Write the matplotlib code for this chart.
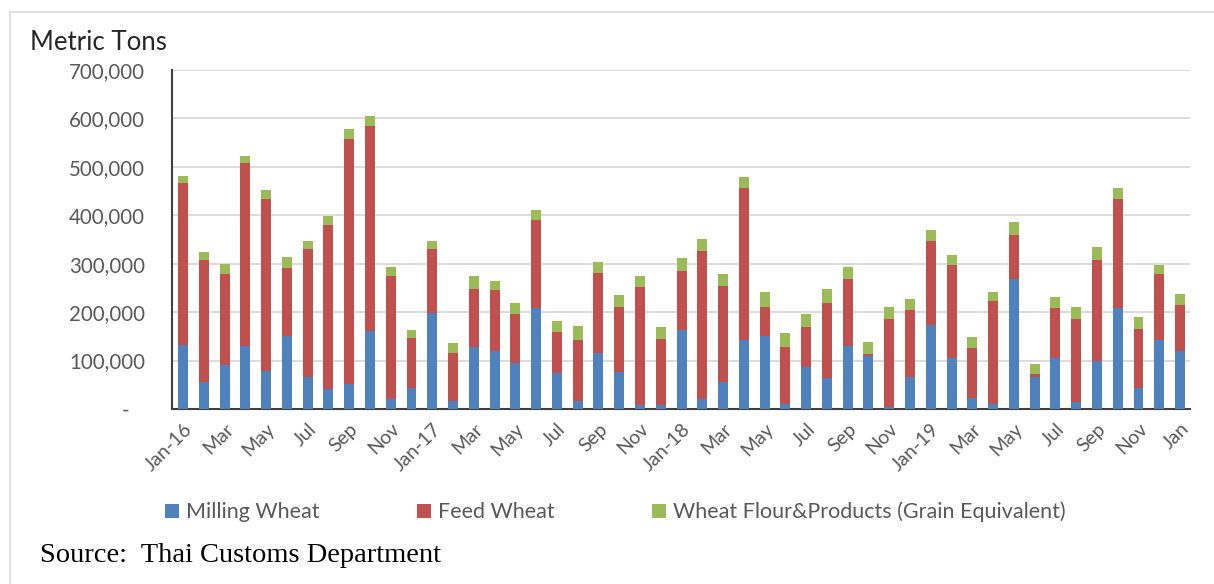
import matplotlib
matplotlib.use("Agg")
import matplotlib.pyplot as plt
from matplotlib.lines import Line2D
from matplotlib.ticker import FuncFormatter

# monthly imports, Jan-16 .. Jan-20 (metric tons)
months = ["Jan-16", "Feb", "Mar", "Apr", "May", "Jun", "Jul", "Aug", "Sep", "Oct", "Nov", "Dec",
          "Jan-17", "Feb", "Mar", "Apr", "May", "Jun", "Jul", "Aug", "Sep", "Oct", "Nov", "Dec",
          "Jan-18", "Feb", "Mar", "Apr", "May", "Jun", "Jul", "Aug", "Sep", "Oct", "Nov", "Dec",
          "Jan-19", "Feb", "Mar", "Apr", "May", "Jun", "Jul", "Aug", "Sep", "Oct", "Nov", "Dec",
          "Jan"]

milling = [132, 55, 91, 130, 79, 150, 67, 41, 51, 161, 21, 44,
           199, 16, 127, 120, 96, 209, 74, 17, 116, 76, 8, 8,
           163, 21, 55, 143, 150, 10, 86, 63, 130, 110, 5, 67,
           173, 106, 23, 10, 268, 67, 106, 14, 100, 209, 43, 142,
           119]

# top of the feed wheat segment (milling + feed)
milling_plus_feed = [466, 307, 278, 508, 434, 292, 331, 380, 558, 585, 275, 146,
                     331, 116, 248, 245, 196, 390, 159, 142, 281, 211, 251, 145,
                     284, 327, 255, 456, 211, 129, 169, 218, 268, 113, 185, 205,
                     347, 297, 126, 222, 360, 73, 208, 185, 307, 433, 166, 278,
                     215]

totals = [482, 324, 300, 522, 453, 314, 347, 399, 578, 605, 294, 163,
          347, 136, 275, 265, 218, 410, 182, 172, 304, 235, 275, 169,
          311, 351, 278, 479, 242, 156, 196, 248, 294, 139, 211, 228,
          370, 317, 149, 242, 386, 93, 231, 211, 334, 456, 191, 298,
          238]

feed = [(b - a) * 1000 for a, b in zip(milling, milling_plus_feed)]
flour = [(t - b) * 1000 for b, t in zip(milling_plus_feed, totals)]
milling = [v * 1000 for v in milling]

labels = ["Milling Wheat", "Feed Wheat", "Wheat Flour&Products (Grain Equivalent)"]
colors = ["#4F81BD", "#C0504D", "#9BBB59"]

plt.rcParams["font.family"] = ["Lato", "DejaVu Sans"]

fig = plt.figure(figsize=(12.14, 5.84), dpi=100)
ax = fig.add_axes([172 / 1214, 1 - 409 / 584, (1190 - 172) / 1214, (409 - 70) / 584])

x = list(range(len(months)))
w = 0.48
ax.bar(x, milling, w, color=colors[0], label=labels[0], zorder=3)
ax.bar(x, feed, w, bottom=milling, color=colors[1], label=labels[1], zorder=3)
bottom2 = [a + b for a, b in zip(milling, feed)]
ax.bar(x, flour, w, bottom=bottom2, color=colors[2], label=labels[2], zorder=3)

ax.set_xlim(-0.53, len(months) - 0.52)
ax.set_ylim(0, 700000)
ax.set_yticks(range(0, 700001, 100000))
ax.yaxis.set_major_formatter(FuncFormatter(lambda v, p: "-   " if v == 0 else f"{int(v):,}"))
ax.grid(axis="y", color="#D9D9D9", linewidth=1.3, zorder=0)

ax.set_xticks(x[::2])
ax.set_xticklabels(months[::2], rotation=45, ha="right", rotation_mode="anchor")
ax.tick_params(axis="x", length=0, pad=8, labelsize=14, labelcolor="#595959")
ax.tick_params(axis="y", length=0, pad=19.5, labelsize=14.8, labelcolor="#595959")

for s in ["top", "right"]:
    ax.spines[s].set_visible(False)
ax.spines["left"].set_color("#404040")
ax.spines["bottom"].set_color("#404040")
ax.spines["left"].set_linewidth(1.5)
ax.spines["bottom"].set_linewidth(1.5)

fig.text(30 / 1214, 1 - 42 / 584, "Metric Tons", fontsize=18.5, color="#262626", va="center", ha="left")

fig.legend(loc="center", bbox_to_anchor=(0.507, 1 - 512 / 584), ncol=3, frameon=False,
           fontsize=15.5, labelcolor="#595959", handlelength=0.65, handleheight=0.65,
           handletextpad=0.35, columnspacing=4.5)

fig.text(40 / 1214, 1 - 556 / 584, "Source:  Thai Customs Department", fontsize=20.5,
         family="Liberation Serif", color="black", va="center", ha="left")

# light frame on the top and left edges
fig.add_artist(Line2D([10 / 1214, 1], [1 - 12 / 584, 1 - 12 / 584], color="#D9D9D9", linewidth=1.2))
fig.add_artist(Line2D([10 / 1214, 10 / 1214], [0, 1 - 12 / 584], color="#D9D9D9", linewidth=1.2))

fig.savefig("out.png", dpi=100)
